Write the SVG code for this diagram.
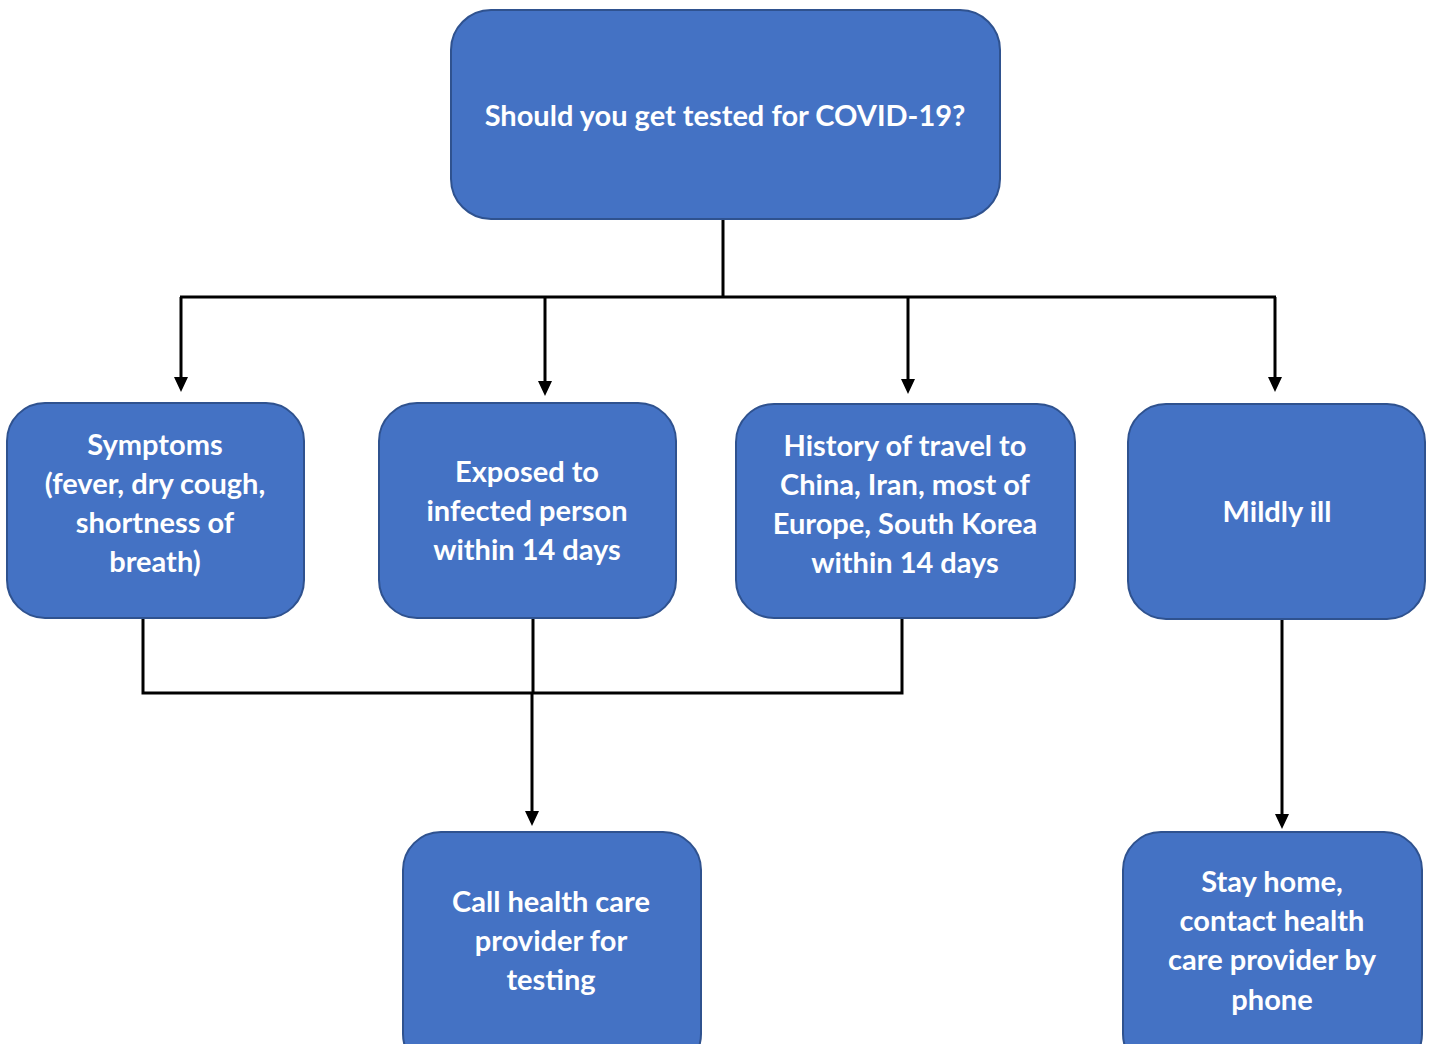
<svg xmlns="http://www.w3.org/2000/svg" width="1432" height="1044" viewBox="0 0 1432 1044">
<style>
.box{fill:#4472C4;stroke:#2F528F;stroke-width:2}
.t{font-family:Lato,"Open Sans",sans-serif;font-weight:bold;font-size:29px;fill:#fff;text-anchor:middle}
.c{fill:none;stroke:#000;stroke-width:3}
.ah{fill:#000}
</style>
<g id="connectors">
<path class="c" d="M723,219 V297 M180,297 H1276"/>
<path class="c" d="M181,297 V380"/>
<path class="c" d="M545,297 V384"/>
<path class="c" d="M908,297 V382"/>
<path class="c" d="M1275,297 V380"/>
<path class="c" d="M143,618 V693 H902 V618 M533,618 V693"/>
<path class="c" d="M532,693 V815"/>
<path class="c" d="M1282,619 V818"/>
<path class="ah" d="M174,377 L188,377 L181,392 Z M538,381 L552,381 L545,396 Z M901,379 L915,379 L908,394 Z M1268,377 L1282,377 L1275,392 Z M525,811 L539,811 L532,826 Z M1275,814 L1289,814 L1282,829 Z"/>
</g>
<g id="n-top"><rect class="box" x="451" y="10" width="549" height="209" rx="40"/>
<text class="t" x="725" y="126">Should you get tested for COVID-19?</text></g>
<g id="n-symptoms"><rect class="box" x="7" y="403" width="297" height="215" rx="38"/>
<text class="t" x="155" y="455">Symptoms</text><text class="t" x="155" y="494">(fever, dry cough,</text><text class="t" x="155" y="533">shortness of</text><text class="t" x="155" y="572">breath)</text></g>
<g id="n-exposed"><rect class="box" x="379" y="403" width="297" height="215" rx="38"/>
<text class="t" x="527" y="482">Exposed to</text><text class="t" x="527" y="521">infected person</text><text class="t" x="527" y="560">within 14 days</text></g>
<g id="n-travel"><rect class="box" x="736" y="404" width="339" height="214" rx="38"/>
<text class="t" x="905" y="456">History of travel to</text><text class="t" x="905" y="495">China, Iran, most of</text><text class="t" x="905" y="534">Europe, South Korea</text><text class="t" x="905" y="573">within 14 days</text></g>
<g id="n-mild"><rect class="box" x="1128" y="404" width="297" height="215" rx="38"/>
<text class="t" x="1277" y="522">Mildly ill</text></g>
<g id="n-call"><rect class="box" x="403" y="832" width="298" height="240" rx="38"/>
<text class="t" x="551" y="912">Call health care</text><text class="t" x="551" y="951">provider for</text><text class="t" x="551" y="990">testing</text></g>
<g id="n-stay"><rect class="box" x="1123" y="832" width="299" height="240" rx="38"/>
<text class="t" x="1272" y="892">Stay home,</text><text class="t" x="1272" y="931">contact health</text><text class="t" x="1272" y="970">care provider by</text><text class="t" x="1272" y="1010">phone</text></g>
</svg>
